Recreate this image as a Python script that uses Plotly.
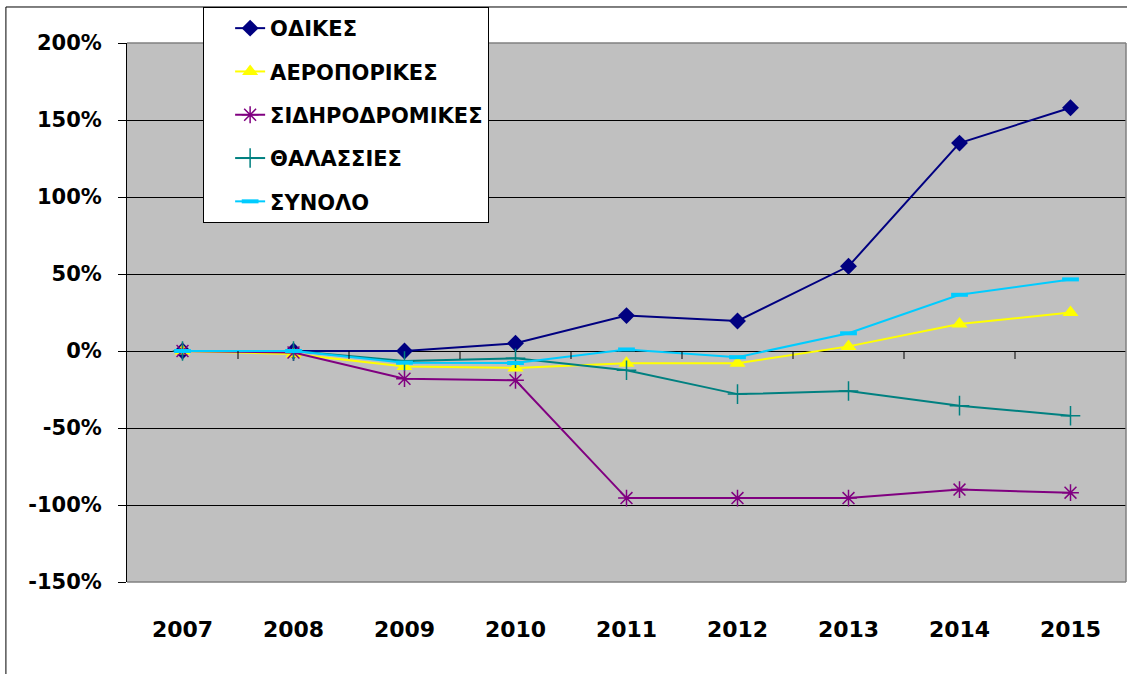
import plotly.graph_objects as go

years = ["2007", "2008", "2009", "2010", "2011", "2012", "2013", "2014", "2015"]
odikes = [0, 0, 0, 5, 23, 19.5, 55, 135, 158]
aeroporikes = [0, -2, -10, -11, -8, -8, 3, 17.5, 25]
sidirodromikes = [0, -1, -18, -19, -95.5, -95.5, -95.5, -90, -92]
thalassies = [0, 0, -6.5, -4.7, -12.5, -28, -26, -35.5, -42]
synolo = [0, 0, -7.6, -7.8, 1, -4, 11.5, 36.5, 46.5]
y_ticks = [-150, -100, -50, 0, 50, 100, 150, 200]
y_tick_text = ["-150%", "-100%", "-50%", "0%", "50%", "100%", "150%", "200%"]

series = [
    ("ΟΔΙΚΕΣ", odikes, "#000080", dict(symbol="diamond", size=13, color="#000080")),
    ("ΑΕΡΟΠΟΡΙΚΕΣ", aeroporikes, "#FFFF00", dict(symbol="triangle-up", size=14, color="#FFFF00")),
    ("ΣΙΔΗΡΟΔΡΟΜΙΚΕΣ", sidirodromikes, "#800080",
     dict(symbol="asterisk-open", size=14, color="#800080", line=dict(color="#800080", width=1.5))),
    ("ΘΑΛΑΣΣΙΕΣ", thalassies, "#008080",
     dict(symbol="cross-thin-open", size=14, color="#008080", line=dict(color="#008080", width=1.5))),
    ("ΣΥΝΟΛΟ", synolo, "#00CCFF",
     dict(symbol="line-ew-open", size=12, color="#00CCFF", line=dict(color="#00CCFF", width=4))),
]

fig = go.Figure()
for i, (name, vals, col, mk) in enumerate(series):
    fig.add_trace(go.Scatter(
        x=years, y=vals, name=name, mode="lines+markers",
        line=dict(color=col, width=2), marker=mk, legendgroup=f"g{i}",
        hovertemplate="%{x}: %{y}%<extra>" + name + "</extra>",
    ))

font_family = "DejaVu Sans"
# category boundary tick marks along the zero line
shapes = []
for i in range(len(years) - 1):
    shapes.append(dict(type="line", xref="x", yref="y", x0=i + 0.5, x1=i + 0.5,
                       ysizemode="pixel", yanchor=0, y0=0, y1=-8,
                       line=dict(color="black", width=1)))
# plot-area border (top, right, bottom) in grey
for (x0, y0, x1, y1) in [(0, 1, 1, 1), (1, 0, 1, 1), (0, 0, 1, 0)]:
    shapes.append(dict(type="line", xref="paper", yref="paper", x0=x0, y0=y0, x1=x1, y1=y1,
                       line=dict(color="#808080", width=1.5), layer="above"))
# outer chart border
shapes.append(dict(type="rect", xref="paper", yref="paper",
                   x0=-0.1212, x1=1.05, y0=-0.3, y1=1.0668,
                   line=dict(color="black", width=1), fillcolor="rgba(0,0,0,0)", layer="below"))

fig.update_layout(
    width=1127, height=674,
    margin=dict(l=127, r=1, t=43, b=92),
    paper_bgcolor="white", plot_bgcolor="#C0C0C0",
    font=dict(family=font_family, size=21, color="black"),
    showlegend=True,
    legend=dict(
        x=0.0762, y=1.0668, xanchor="left", yanchor="top",
        bgcolor="white", bordercolor="black", borderwidth=1,
        font=dict(family=font_family, size=21, color="black", weight="bold"),
        traceorder="grouped", tracegroupgap=13, indentation=26,
    ),
    shapes=shapes,
    xaxis=dict(
        type="category", categoryorder="array", categoryarray=years,
        range=[-0.5, 8.5], showgrid=False, zeroline=False,
        showline=False, ticks="",
        tickfont=dict(family=font_family, size=22, weight="bold"),
        ticklabelstandoff=32,
    ),
    yaxis=dict(
        range=[-150, 200], tickvals=y_ticks, ticktext=y_tick_text,
        showgrid=True, gridcolor="black", gridwidth=1,
        zeroline=True, zerolinecolor="black", zerolinewidth=1,
        showline=True, linecolor="black", linewidth=1,
        ticks="outside", ticklen=8, tickcolor="black",
        tickfont=dict(family=font_family, size=21, weight="bold"),
        ticklabelstandoff=12,
    ),
)

fig.write_html("out.html", config={"displayModeBar": False},
               post_script="document.body.style.margin='0';")
